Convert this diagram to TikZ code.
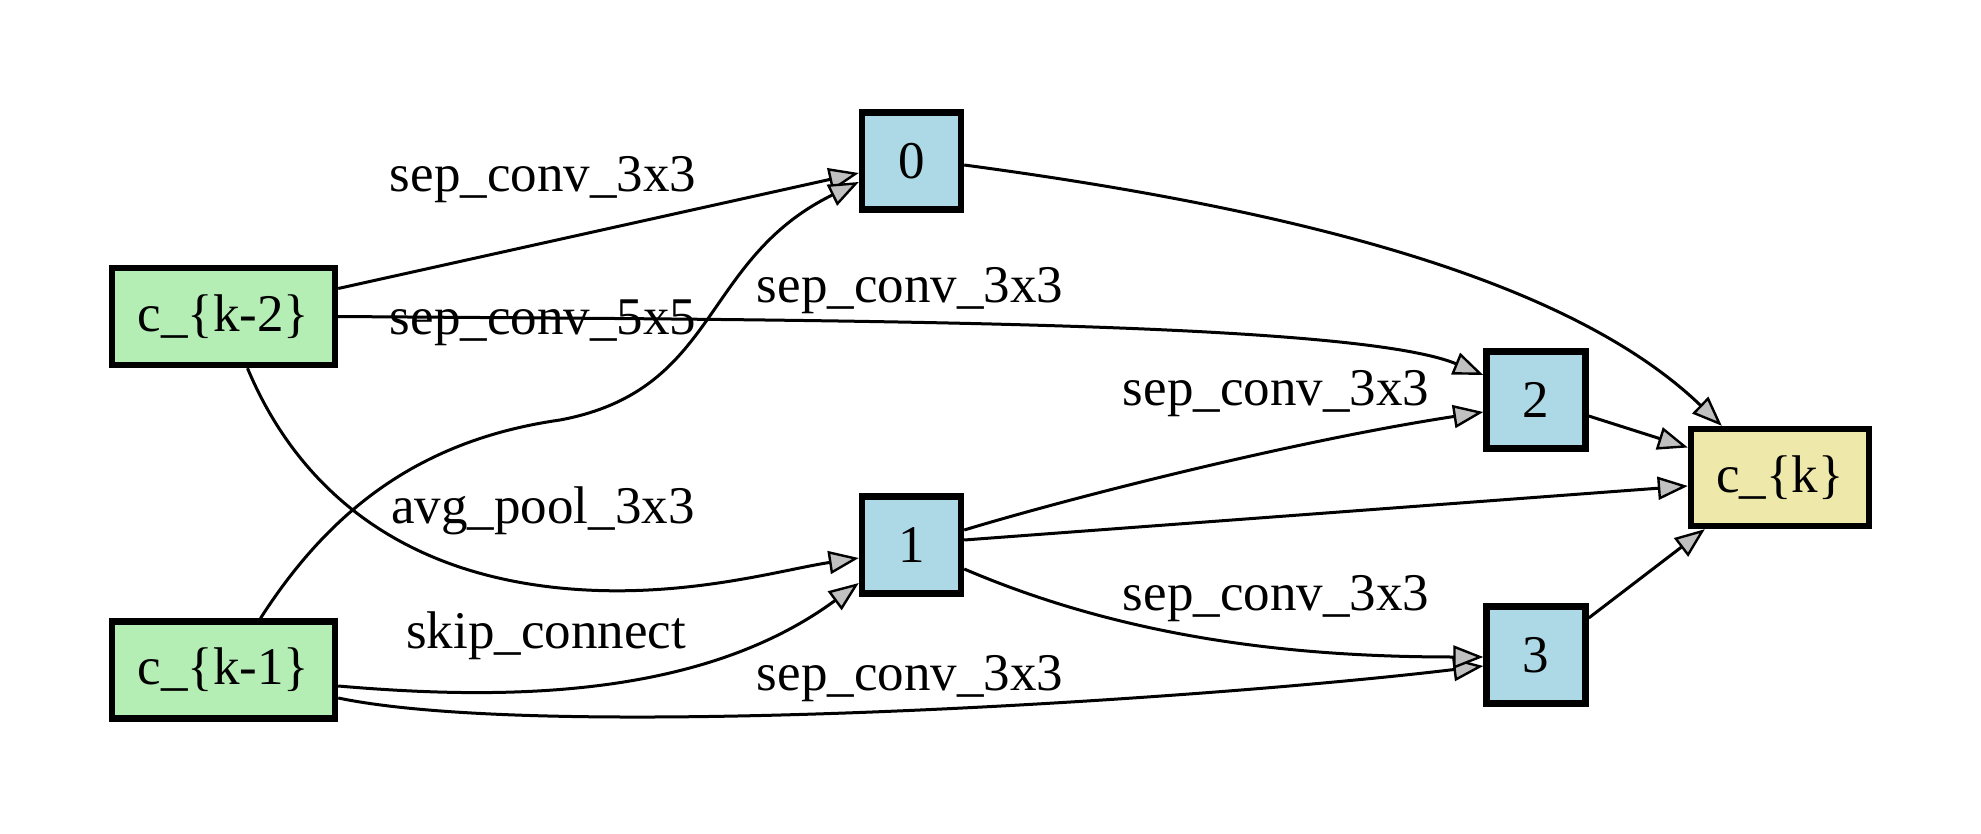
\documentclass[tikz,border=0pt]{standalone}
\usepackage{fontspec}
\setmainfont{Liberation Serif}
\usetikzlibrary{arrows.meta,calc}
\definecolor{cgreen}{HTML}{B4EEB4}
\definecolor{cblue}{HTML}{ADD8E6}
\definecolor{cyellow}{HTML}{EEE8AA}
\definecolor{agray}{HTML}{C0C0C0}
\begin{document}
\begin{tikzpicture}[x=0.5pt,y=-0.5pt,
  box/.style={draw=black, line width=3.2pt, font=\fontsize{26.5}{31}\selectfont, inner sep=0pt, minimum height=48.5pt},
  inbox/.style={box, fill=cgreen, minimum width=111.5pt},
  midbox/.style={box, fill=cblue, minimum width=49.5pt},
  outbox/.style={box, fill=cyellow, minimum width=89pt},
  conn/.style={line width=1.5pt, -{Triangle[length=15pt,width=11.5pt,fill=agray,line width=1.2pt]}},
  lbl/.style={font=\fontsize{26.5}{31}\selectfont, inner sep=0pt, anchor=base}]
\useasboundingbox (0,0) rectangle (1981,834);
% nodes
\node[inbox] (km2) at (223.5,316.5) {c\_\{k-2\}};
\node[inbox] (km1) at (223.5,670) {c\_\{k-1\}};
\node[midbox] (n0) at (911.5,161) {0};
\node[midbox] (n1) at (911.5,545) {1};
\node[midbox] (n2) at (1536,400) {2};
\node[midbox] (n3) at (1536,655) {3};
\node[outbox] (ck) at (1780,477.5) {c\_\{k\}};
% edges
\draw[conn] ($(km2.east)+(0,-28)$) -- ($(n0.west)+(0,12)$);
\draw[conn] ($(km1.north)+(37,0)$) .. controls (330,510) and (420,440) .. (560,420)
   .. controls (720,390) and (700,260) .. ($(n0.west)+(0,21)$);
\draw[conn] ($(km2.south)+(24,0)$) .. controls (290,470) and (380,570) .. (560,588)
   .. controls (680,600) and (780,570) .. ($(n1.west)+(0,13)$);
\draw[conn] ($(km1.east)+(0,16)$) .. controls (500,700) and (700,700) .. ($(n1.west)+(0,38)$);
\draw[conn] (km2.east) .. controls (800,320) and (1350,320) .. ($(n2.west)+(0,-25)$);
\draw[conn] ($(km1.east)+(0,28)$) .. controls (550,742) and (1200,700) .. ($(n3.west)+(0,11)$);
\draw[conn] ($(n1.east)+(0,-15)$) .. controls (1080,495) and (1300,440) .. ($(n2.west)+(0,12)$);
\draw[conn] ($(n1.east)+(0,24)$) .. controls (1130,640) and (1300,657) .. ($(n3.west)+(0,2)$);
\draw[conn] ($(n1.east)+(0,-5)$) -- ($(ck.west)+(0,8.5)$);
\draw[conn] ($(n2.east)+(0,16)$) -- ($(ck.west)+(0,-30)$);
\draw[conn] ($(n3.east)+(0,-37)$) -- ($(ck.south west)+(17,0)$);
\draw[conn] ($(n0.east)+(0,4)$) .. controls (1300,210) and (1570,280) .. ($(ck.north west)+(34,0)$);
% labels
\node[lbl] (l1) at (543,192) {sep\_conv\_3x3};
\node[lbl] (l2) at (543,335) {sep\_conv\_5x5};
\node[lbl] (l3) at (910,303) {sep\_conv\_3x3};
\node[lbl] (l4) at (1276,405) {sep\_conv\_3x3};
\node[lbl] (l5) at (543,523) {avg\_pool\_3x3};
\node[lbl] (l6) at (546,648) {skip\_connect};
\node[lbl] (l7) at (1276,610) {sep\_conv\_3x3};
\node[lbl] (l8) at (910,690) {sep\_conv\_3x3};
\end{tikzpicture}
\end{document}
